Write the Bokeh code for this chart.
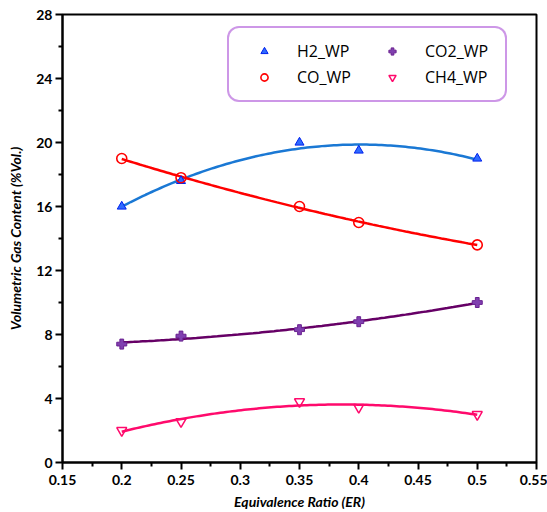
import numpy as np
from bokeh.plotting import figure
from bokeh.models import Legend, LegendItem, FixedTicker, Range1d
from bokeh.embed import file_html
from bokeh.resources import INLINE

# ---------------- data ----------------
er = [0.2, 0.25, 0.35, 0.4, 0.5]
h2_wp = [16.0, 17.6, 20.0, 19.5, 19.0]
co_wp = [19.0, 17.8, 16.0, 15.0, 13.6]
co2_wp = [7.4, 7.9, 8.3, 8.8, 10.0]
ch4_wp = [2.0, 2.55, 3.8, 3.45, 3.0]

x_ticks = [0.15, 0.2, 0.25, 0.3, 0.35, 0.4, 0.45, 0.5, 0.55]
x_minor = [0.175, 0.225, 0.275, 0.325, 0.375, 0.425, 0.475, 0.525]
y_ticks = [0, 4, 8, 12, 16, 20, 24, 28]
y_minor = [2, 6, 10, 14, 18, 22, 26]
x_tick_labels = {0.15: "0.15", 0.2: "0.2", 0.25: "0.25", 0.3: "0.3", 0.35: "0.35",
                 0.4: "0.4", 0.45: "0.45", 0.5: "0.5", 0.55: "0.55"}

p = figure(width=547, height=512, output_backend="svg", toolbar_location=None,
           x_range=Range1d(0.15, 0.55), y_range=Range1d(0, 28),
           min_border_left=62, min_border_right=11, min_border_top=14, min_border_bottom=50)
p.background_fill_color = "white"
p.border_fill_color = "white"
p.grid.visible = False
p.outline_line_color = "black"
p.outline_line_width = 2
p.outline_line_alpha = 1.0

# axes
for ax in (p.xaxis[0], p.yaxis[0]):
    ax.axis_line_width = 2
    ax.axis_line_color = "black"
    ax.major_tick_line_width = 2
    ax.minor_tick_line_width = 2
    ax.major_tick_in = 0
    ax.major_tick_out = 7
    ax.minor_tick_in = 0
    ax.minor_tick_out = 4
    ax.major_label_text_font = "Lato"
    ax.major_label_text_font_style = "bold"
    ax.major_label_text_font_size = "14px"
    ax.major_label_text_color = "black"
    ax.axis_label_text_font = "Lato"
    ax.axis_label_text_font_style = "bold italic"
    ax.axis_label_text_font_size = "14px"
    ax.axis_label_text_color = "black"

p.xaxis.ticker = FixedTicker(ticks=x_ticks, minor_ticks=x_minor)
p.yaxis.ticker = FixedTicker(ticks=y_ticks, minor_ticks=y_minor)
p.xaxis.major_label_overrides = x_tick_labels
p.xaxis.axis_label = "Equivalence Ratio (ER)"
p.yaxis.axis_label = "Volumetric Gas Content (%Vol.)"
p.xaxis.major_label_standoff = 5
p.xaxis.axis_label_standoff = 5
p.yaxis.major_label_standoff = 3
p.yaxis.axis_label_standoff = 9

# fitted trend lines (quadratic fits of the data)
xs = np.linspace(min(er), max(er), 120)
def fit(vals):
    return np.polyval(np.polyfit(er, vals, 2), xs)

p.line(xs, fit(h2_wp), line_color="#1a78d4", line_width=2.5)
p.line(xs, fit(co_wp), line_color="#ff0000", line_width=2.5)
p.line(xs, fit(co2_wp), line_color="#660066", line_width=2.5)
p.line(xs, fit(ch4_wp), line_color="#ff0a6c", line_width=2.5)

r_h2 = p.scatter(er, h2_wp, marker="triangle", size=9, fill_color="#2f6bff",
                 line_color="#0022ee", line_width=1)
r_co = p.scatter(er, co_wp, marker="circle", size=10, fill_color=None,
                 line_color="#ff0000", line_width=1.6)
r_co2 = p.scatter(er, co2_wp, marker="plus", size=10, fill_color="#8040b0",
                  line_color="#6a2090", line_width=1)
r_ch4 = p.scatter(er, ch4_wp, marker="inverted_triangle", size=10, fill_color=None,
                  line_color="#ff0a6c", line_width=1.5)

legend = Legend(items=[
    LegendItem(label="H2_WP", renderers=[r_h2]),
    LegendItem(label="CO_WP", renderers=[r_co]),
    LegendItem(label="CO2_WP", renderers=[r_co2]),
    LegendItem(label="CH4_WP", renderers=[r_ch4]),
], location=(165, 360), orientation="vertical", nrows=2)
legend.margin = 0
legend.padding = 12
legend.glyph_width = 46
legend.glyph_height = 18
legend.label_height = 18
legend.label_width = 68
legend.label_standoff = 10
legend.spacing = 4
legend.label_text_font = "Open Sans"
legend.label_text_font_size = "16px"
legend.label_text_color = "black"
legend.border_line_color = "#9b30d0"
legend.border_line_width = 2
legend.background_fill_color = "white"
legend.background_fill_alpha = 1.0
if "border_radius" in Legend.properties():
    legend.border_radius = 12
p.add_layout(legend, "center")

open("out.html", "w").write(file_html(p, INLINE))
